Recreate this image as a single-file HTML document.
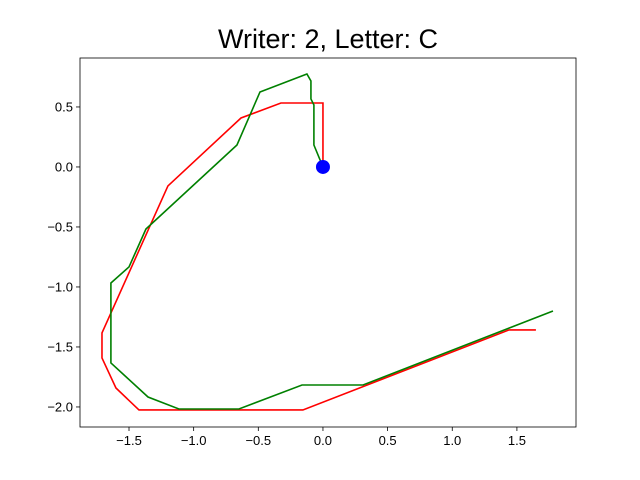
<!DOCTYPE html>
<html><head><meta charset="utf-8"><style>body{margin:0;background:#fff}svg{display:block;font-family:"Liberation Sans","DejaVu Sans",sans-serif}</style></head>
<body>
<svg id="chart" width="640" height="480"></svg>
<script>
const redX=[0,0,-0.325,-0.634,-1.199,-1.709,-1.709,-1.601,-1.423,-0.155,1.439,1.647];
const redY=[0,0.533,0.533,0.408,-0.158,-1.383,-1.592,-1.842,-2.025,-2.025,-1.358,-1.358];
const greenX=[0,-0.07,-0.07,-0.093,-0.093,-0.124,-0.487,-0.665,-1.369,-1.5,-1.64,-1.64,-1.353,-1.114,-0.65,-0.162,0.31,1.779];
const greenY=[0,0.183,0.517,0.567,0.717,0.775,0.625,0.183,-0.517,-0.833,-0.967,-1.633,-1.917,-2.017,-2.017,-1.817,-1.817,-1.2];
const startPoint=[0,0];
const xTicks=[-1.5,-1.0,-0.5,0.0,0.5,1.0,1.5];
const yTicks=[0.5,0.0,-0.5,-1.0,-1.5,-2.0];
const titleText="Writer: 2, Letter: C";
const NS="http://www.w3.org/2000/svg";
const svg=document.getElementById('chart');
const L=80,R=576,T=58,B=427,xmin=-1.879,xmax=1.957,ymin=-2.167,ymax=0.908;
const sx=v=>L+(v-xmin)/(xmax-xmin)*(R-L);
const sy=v=>B-(v-ymin)/(ymax-ymin)*(B-T);
function mk(t,a){const e=document.createElementNS(NS,t);for(const k in a)e.setAttribute(k,a[k]);svg.appendChild(e);return e;}
const fmt=v=>(v<0?"\u2212":"")+Math.abs(v).toFixed(1);
const title=mk('text',{x:328,y:48,'font-size':27,'text-anchor':'middle',fill:'#000'});
title.textContent=titleText;


xTicks.forEach(v=>{const x=sx(v);
const tk=mk('line',{x1:x,x2:x,y1:B,y2:B+4,stroke:'#000','stroke-width':0.8});


const t=mk('text',{x:x,y:B+18,'font-size':13,'text-anchor':'middle'});t.textContent=fmt(v);

});
yTicks.forEach(v=>{const y=sy(v);
const tk=mk('line',{x1:L-4,x2:L,y1:y,y2:y,stroke:'#000','stroke-width':0.8});


const t=mk('text',{x:L-7,y:y+4.5,'font-size':13,'text-anchor':'end'});t.textContent=fmt(v);

});
function line(xs,ys,c,name){const p=mk('polyline',{points:xs.map((x,i)=>sx(x)+','+sy(ys[i])).join(' '),fill:'none',stroke:c,'stroke-width':1.6});

}
line(redX,redY,'#ff0000','red-stroke-line');
line(greenX,greenY,'#008000','green-stroke-line');
const dot=mk('circle',{cx:sx(startPoint[0]),cy:sy(startPoint[1]),r:7,fill:'#0000ff'});


const frame=mk('rect',{x:L,y:T,width:R-L,height:B-T,fill:'none',stroke:'#000','stroke-width':0.8});


</script>
</body></html>
